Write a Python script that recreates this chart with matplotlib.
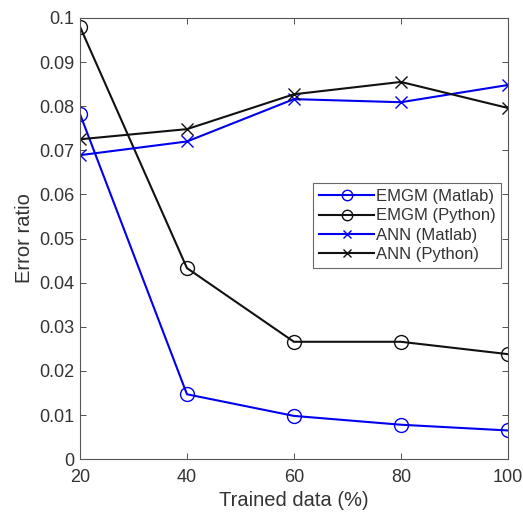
import matplotlib
matplotlib.use("Agg")
import matplotlib.pyplot as plt

# data
trained = [20, 40, 60, 80, 100]
emgm_matlab = [0.0782, 0.0147, 0.0098, 0.0078, 0.0065]
emgm_python = [0.0980, 0.0433, 0.0266, 0.0266, 0.0238]
ann_matlab = [0.0689, 0.0720, 0.0816, 0.0809, 0.0848]
ann_python = [0.0725, 0.0748, 0.0827, 0.0855, 0.0796]
yticks = [0, 0.01, 0.02, 0.03, 0.04, 0.05, 0.06, 0.07, 0.08, 0.09, 0.1]
ytick_labels = ["0", "0.01", "0.02", "0.03", "0.04", "0.05", "0.06", "0.07", "0.08", "0.09", "0.1"]

plt.rcParams["font.family"] = ["Liberation Sans", "DejaVu Sans"]
txt = "#333333"

fig = plt.figure(figsize=(5.23, 5.13), dpi=100)
ax = fig.add_axes([0.153, 0.105, 0.818, 0.860])

ax.plot(trained, emgm_matlab, color="#0000ee", lw=1.5, marker="o", ms=10,
        mfc="none", mew=1.0, label="EMGM (Matlab)")
ax.plot(trained, emgm_python, color="#111111", lw=1.5, marker="o", ms=10,
        mfc="none", mew=1.0, label="EMGM (Python)")
ax.plot(trained, ann_matlab, color="#0000ee", lw=1.5, marker="x", ms=8,
        mew=1.0, label="ANN (Matlab)")
ax.plot(trained, ann_python, color="#111111", lw=1.5, marker="x", ms=8,
        mew=1.0, label="ANN (Python)")

ax.set_xlim(20, 100)
ax.set_ylim(0, 0.1)
ax.set_xticks(trained)
ax.set_yticks(yticks)
ax.set_yticklabels(ytick_labels)
ax.tick_params(direction="in", top=True, right=True, labelsize=13,
               colors=txt, length=4, width=0.6)
ax.tick_params(axis="x", pad=7)
ax.tick_params(axis="y", pad=4)
for s in ax.spines.values():
    s.set_color("#555555")
    s.set_linewidth(0.8)
ax.set_xlabel("Trained data (%)", fontsize=14.5, color=txt, labelpad=4)
ax.set_ylabel("Error ratio", fontsize=14.5, color=txt, labelpad=4)

leg = ax.legend(loc="upper right", bbox_to_anchor=(0.985, 0.625), fontsize=12,
                frameon=True, fancybox=False, edgecolor="#444444",
                handlelength=3.3, handletextpad=0.1, borderpad=0.35,
                labelspacing=0.25, borderaxespad=0, markerscale=0.75)
leg.get_frame().set_linewidth(0.8)
for t in leg.get_texts():
    t.set_color(txt)

fig.savefig("out.png", dpi=100)
